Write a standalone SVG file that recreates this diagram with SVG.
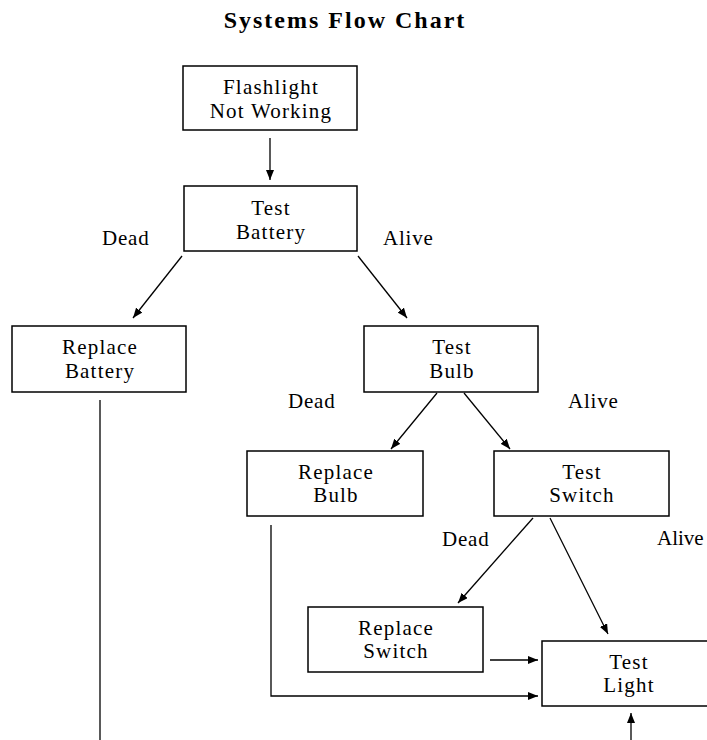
<svg xmlns="http://www.w3.org/2000/svg" width="707" height="740" viewBox="0 0 707 740">
<style>
  .box { fill: #ffffff; stroke: #000000; stroke-width: 1.5; }
  .lbl { font-family: "Liberation Serif", "Times New Roman", serif; font-size: 21px; letter-spacing: 1.2px; fill: #000000; text-anchor: middle; }
  .edge { font-family: "Liberation Serif", "Times New Roman", serif; font-size: 21px; letter-spacing: 0.8px; fill: #000000; }
  .title { font-family: "Liberation Serif", "Times New Roman", serif; font-size: 24px; font-weight: bold; letter-spacing: 2px; fill: #000000; text-anchor: middle; }
  .conn { fill: none; stroke: #000000; stroke-width: 1.3; }
</style>
<defs>
  <marker id="arr" viewBox="0 0 10 8" refX="10" refY="4" markerWidth="10" markerHeight="8" markerUnits="userSpaceOnUse" orient="auto">
    <path d="M0,0 L10,4 L0,8 Z" fill="#000000"/>
  </marker>
</defs>
<rect width="707" height="740" fill="#ffffff"/>
<text class="title" x="345" y="28">Systems Flow Chart</text>

<g id="connectors">
  <line class="conn" x1="270" y1="138" x2="270" y2="180" marker-end="url(#arr)"/>
  <line class="conn" x1="182" y1="256" x2="133" y2="318" marker-end="url(#arr)"/>
  <line class="conn" x1="358" y1="256" x2="407" y2="318" marker-end="url(#arr)"/>
  <line class="conn" x1="437" y1="393" x2="391" y2="449" marker-end="url(#arr)"/>
  <line class="conn" x1="464" y1="393" x2="510" y2="449" marker-end="url(#arr)"/>
  <line class="conn" x1="533" y1="518" x2="458" y2="603" marker-end="url(#arr)"/>
  <line class="conn" x1="550" y1="518" x2="608" y2="634" marker-end="url(#arr)"/>
  <line class="conn" x1="490" y1="660" x2="538" y2="660" marker-end="url(#arr)"/>
  <path class="conn" d="M271,525 L271,696 L538,696" marker-end="url(#arr)"/>
  <line class="conn" x1="100" y1="400" x2="100" y2="740"/>
  <line class="conn" x1="631" y1="740" x2="631" y2="713" marker-end="url(#arr)"/>
</g>

<g id="edge-labels">
  <text class="edge" x="102" y="245">Dead</text>
  <text class="edge" x="383" y="245">Alive</text>
  <text class="edge" x="288" y="408">Dead</text>
  <text class="edge" x="568" y="408">Alive</text>
  <text class="edge" x="442" y="546">Dead</text>
  <text class="edge" x="657" y="545" style="letter-spacing:0px">Alive</text>
</g>

<g id="flashlight">
  <rect class="box" x="183" y="66" width="174" height="64"/>
  <text class="lbl" x="271" y="94">Flashlight</text>
  <text class="lbl" x="271" y="118">Not Working</text>
</g>
<g id="test-battery">
  <rect class="box" x="184" y="186" width="173" height="65"/>
  <text class="lbl" x="271" y="215">Test</text>
  <text class="lbl" x="271" y="239">Battery</text>
</g>
<g id="replace-battery">
  <rect class="box" x="12" y="326" width="174" height="66"/>
  <text class="lbl" x="100" y="354">Replace</text>
  <text class="lbl" x="100" y="378">Battery</text>
</g>
<g id="test-bulb">
  <rect class="box" x="364" y="326" width="174" height="66"/>
  <text class="lbl" x="452" y="354">Test</text>
  <text class="lbl" x="452" y="378">Bulb</text>
</g>
<g id="replace-bulb">
  <rect class="box" x="247" y="451" width="176" height="65"/>
  <text class="lbl" x="336" y="479">Replace</text>
  <text class="lbl" x="336" y="502">Bulb</text>
</g>
<g id="test-switch">
  <rect class="box" x="494" y="451" width="175" height="65"/>
  <text class="lbl" x="582" y="479">Test</text>
  <text class="lbl" x="582" y="502">Switch</text>
</g>
<g id="replace-switch">
  <rect class="box" x="308" y="607" width="175" height="65"/>
  <text class="lbl" x="396" y="635">Replace</text>
  <text class="lbl" x="396" y="658">Switch</text>
</g>
<g id="test-light">
  <rect class="box" x="542" y="641" width="174" height="65"/>
  <text class="lbl" x="629" y="669">Test</text>
  <text class="lbl" x="629" y="692">Light</text>
</g>
</svg>
